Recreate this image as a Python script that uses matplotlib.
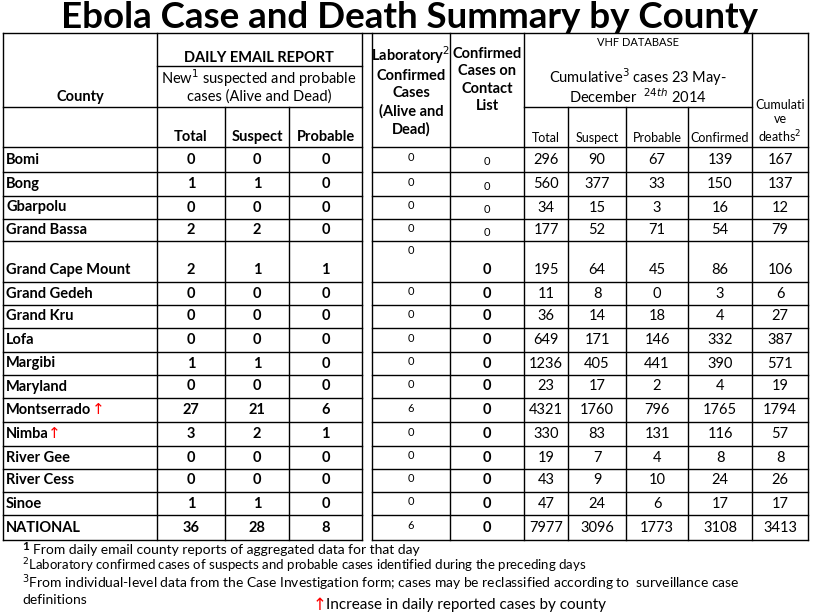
import matplotlib
matplotlib.use("Agg")
import matplotlib.pyplot as plt

counties = ["Bomi","Bong","Gbarpolu","Grand Bassa","Grand Cape Mount","Grand Gedeh","Grand Kru","Lofa",
            "Margibi","Maryland","Montserrado","Nimba","River Gee","River Cess","Sinoe","NATIONAL"]
new_total = [0,1,0,2,2,0,0,0,1,0,27,3,0,0,1,36]
new_susp = [0,1,0,2,1,0,0,0,1,0,21,2,0,0,1,28]
new_prob = [0,0,0,0,1,0,0,0,0,0,6,1,0,0,0,8]
lab_conf = [0,0,0,0,0,0,0,0,0,0,6,0,0,0,0,6]
contact = [0,0,0,0,0,0,0,0,0,0,0,0,0,0,0,0]
cum_total = [296,560,34,177,195,11,36,649,1236,23,4321,330,19,43,47,7977]
cum_susp = [90,377,15,52,64,8,14,171,405,17,1760,83,7,9,24,3096]
cum_prob = [67,33,3,71,45,0,18,146,441,2,796,131,4,10,6,1773]
cum_conf = [139,150,16,54,86,3,4,332,390,4,1765,116,8,24,17,3108]
cum_deaths = [167,137,12,79,106,6,27,387,571,19,1794,57,8,26,17,3413]
increase = ["Montserrado","Nimba"]

plt.rcParams['font.family'] = ['Lato','DejaVu Sans']
fig = plt.figure(figsize=(8.22,6.16), dpi=100)
ax = fig.add_axes([0,0,1,1]); ax.set_xlim(0,822); ax.set_ylim(616,0); ax.axis('off')

ax.text(409,17,"Ebola Case and Death Summary by County",ha='center',va='center',fontsize=26.5,fontweight='bold')

xs = [3,157,225,289,362,372,450,524,568,626,688,752,808]
rows = [147,172,196,219,241,282,305,328,352,375,398,422,446,469,492,515,540]
top = 33
lw = 1.0
ax.plot([3,808],[top,top],'k',lw=lw)
for y in rows:
    ax.plot([3,362],[y,y],'k',lw=lw); ax.plot([372,808],[y,y],'k',lw=lw)
ax.plot([157,362],[66,66],'k',lw=lw)
ax.plot([3,362],[107,107],'k',lw=lw)
ax.plot([524,752],[107,107],'k',lw=lw)
for x in [3,157,362,372,450,524,752,808]:
    ax.plot([x,x],[top,540],'k',lw=lw)
for x in [225,289]:
    ax.plot([x,x],[107,540],'k',lw=lw)
for x in [568,626,688]:
    ax.plot([x,x],[107,540],'k',lw=lw)

fs = 10.5
ax.text(80,97,"County",ha='center',va='center',fontsize=fs,fontweight='bold')
ax.text(259,58,"DAILY EMAIL REPORT",ha='center',va='center',fontsize=fs,fontweight='bold')
ax.text(259,78,"New$^1$ suspected and probable",ha='center',va='center',fontsize=fs)
ax.text(259,97,"cases (Alive and Dead)",ha='center',va='center',fontsize=fs)
for i,t in enumerate(["Total","Suspect","Probable"]):
    ax.text((xs[i+1]+xs[i+2])/2,137,t,ha='center',va='center',fontsize=fs,fontweight='bold')
ax.text(411,90,"Laboratory$^2$\nConfirmed\nCases\n(Alive and\nDead)",ha='center',va='center',fontsize=fs,fontweight='bold',linespacing=1.3)
ax.text(487,80,"Confirmed\nCases on\nContact\nList",ha='center',va='center',fontsize=fs,fontweight='bold',linespacing=1.3)
ax.text(638,43,"VHF DATABASE",ha='center',va='center',fontsize=8)
ax.text(638,77,"Cumulative$^3$ cases 23 May-",ha='center',va='center',fontsize=fs)
ax.text(638,97,"December  $^{24th}$ 2014",ha='center',va='center',fontsize=fs)
ax.text(780,122,"Cumulati\nve\ndeaths$^2$",ha='center',va='center',fontsize=9)
for i,t in enumerate(["Total","Suspect","Probable","Confirmed"]):
    ax.text((xs[7+i]+xs[8+i])/2,138,t,ha='center',va='center',fontsize=9)

for r,c in enumerate(counties):
    y0,y1 = rows[r],rows[r+1]
    tall = (y1-y0) > 30
    ym = y1-12 if tall else (y0+y1)/2
    ax.text(6,ym,c,ha='left',va='center',fontsize=fs,fontweight='bold')
    if c in increase:
        w = {"Montserrado":86,"Nimba":42}[c]
        ax.text(6+w,ym,"↑",ha='left',va='center',fontsize=11,color='red',fontfamily='DejaVu Sans')
    for j,v in enumerate([new_total[r],new_susp[r],new_prob[r]]):
        ax.text((xs[1+j]+xs[2+j])/2,ym,str(v),ha='center',va='center',fontsize=fs,fontweight='bold')
    ax.text(411,(y0+10) if tall else ym-2,str(lab_conf[r]),ha='center',va='center',fontsize=8)
    ax.text(487,ym+2 if r<4 else ym,str(contact[r]),ha='center',va='center',fontsize=8 if r<4 else fs,fontweight='normal' if r<4 else 'bold')
    for j,v in enumerate([cum_total[r],cum_susp[r],cum_prob[r],cum_conf[r],cum_deaths[r]]):
        ax.text((xs[7+j]+xs[8+j])/2,ym,str(v),ha='center',va='center',fontsize=fs)

ax.text(22,547,"1",ha='left',va='center',fontsize=8.5,fontweight='bold')
ax.text(33,550,"From daily email county reports of aggregated data for that day",ha='left',va='center',fontsize=10)
ax.text(22,566,"$^2$Laboratory confirmed cases of suspects and probable cases identified during the preceding days",ha='left',va='center',fontsize=9.5)
ax.text(22,583,"$^3$From individual-level data from the Case Investigation form; cases may be reclassified according to  surveillance case",ha='left',va='center',fontsize=10)
ax.text(22,600,"definitions",ha='left',va='center',fontsize=10)
ax.text(313,605,"↑",ha='left',va='center',fontsize=12,color='red',fontfamily='DejaVu Sans')
ax.text(326,605,"Increase in daily reported cases by county",ha='left',va='center',fontsize=11)
fig.savefig("out.png",dpi=100)
